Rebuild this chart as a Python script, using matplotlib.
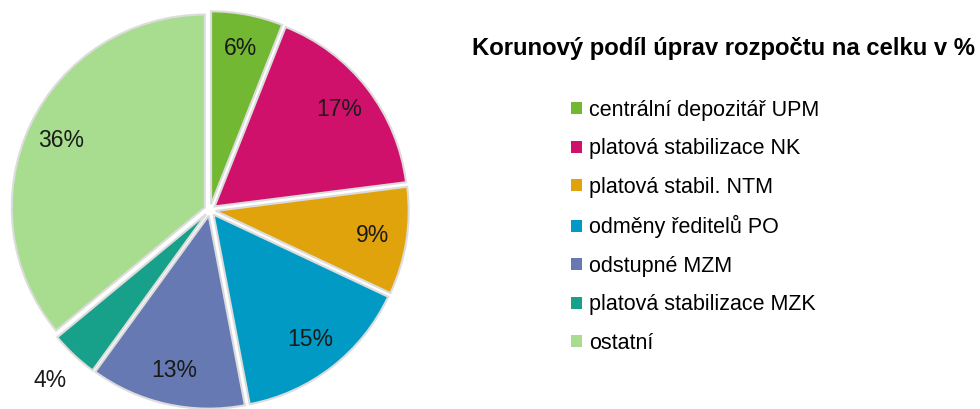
import matplotlib
matplotlib.use("Agg")
import matplotlib.pyplot as plt
import numpy as np

categories = ["centrální depozitář UPM", "platová stabilizace NK", "platová stabil. NTM",
              "odměny ředitelů PO", "odstupné MZM", "platová stabilizace MZK", "ostatní"]
values = [6, 17, 9, 15, 13, 4, 36]
pct_labels = ["6%", "17%", "9%", "15%", "13%", "4%", "36%"]
colors = ["#72B832", "#D0116B", "#E0A30B", "#009AC4", "#6679B2", "#17A08A", "#A8DC8E"]
title = "Korunový podíl úprav rozpočtu na celku v %"

W, H = 980, 409
fig = plt.figure(figsize=(W / 100, H / 100), dpi=100)
font = ["Liberation Sans", "DejaVu Sans"]

cx, cy, r = 210, 409 - 210, 193
axw = 420
ax = fig.add_axes([0, 0, axw / W, 1])
wedges, _ = ax.pie(values, colors=colors, startangle=90, counterclock=False,
                   radius=1.0, explode=[0.03] * len(values),
                   wedgeprops=dict(edgecolor="#dcdcdc", linewidth=1.5))
ax.set_aspect("auto")
ax.set_xlim(-cx / r, (axw - cx) / r)
ax.set_ylim(-cy / r, (H - cy) / r)
ax.axis("off")

total = sum(values)
cum = 0
for v, lab in zip(values, pct_labels):
    mid = 90 - 360 * (cum + v / 2) / total
    cum += v
    d = 0.85 if v >= 5 else 1.21
    ang = np.deg2rad(mid)
    ax.text(d * np.cos(ang), d * np.sin(ang), lab, ha="center", va="center",
            fontsize=16.5, family=font, color="#1a1a1a")

fig.text(472 / W, 1 - 48 / H, title, fontsize=17.2, fontweight="bold",
         family=font, ha="left", va="center", color="#000000")

leg = fig.legend(wedges, categories, loc="upper left",
                 bbox_to_anchor=(571 / W, 1 - 100 / H), frameon=False,
                 prop={"family": font, "size": 15.5},
                 handlelength=0.5, handleheight=0.5, handletextpad=0.35,
                 labelspacing=0.81, borderaxespad=0, borderpad=0)
for h in leg.legend_handles:
    h.set_edgecolor("none")

fig.savefig("out.png", dpi=100)
